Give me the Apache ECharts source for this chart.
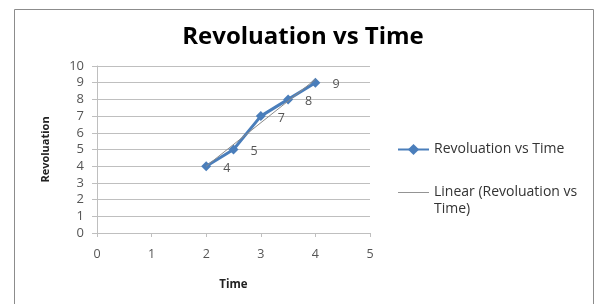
<!DOCTYPE html>
<html>
<head>
<meta charset="utf-8">
<script src="https://cdn.jsdelivr.net/npm/echarts@6/dist/echarts.min.js"></script>
<style>
    html, body { margin: 0; padding: 0; background: #fff; }
    #chart { width: 597px; height: 304px; }
</style>
</head>
<body>
<div id="chart"></div>
<script>
var timeValues = [2, 2.5, 3, 3.5, 4];
var revValues = [4, 5, 7, 8, 9];
// linear trendline end points
var trendTime = [2, 4];
var trendRev = [4.0, 9.2];

var seriesName = 'Revoluation vs Time';
var trendName = 'Linear (Revoluation vs Time)';

var fontFam = '"Open Sans", sans-serif';
var chart = echarts.init(document.getElementById('chart'));

var option = {
    animation: false,
    backgroundColor: '#fff',
    title: {
        text: 'Revoluation vs Time',
        left: 298,
        textAlign: 'center',
        top: 20,
        textStyle: {
            fontFamily: fontFam,
            fontSize: 24,
            fontWeight: 'bold',
            color: '#000'
        }
    },
    graphic: [{
        type: 'rect',
        shape: { x: 14.5, y: 9.5, width: 579, height: 310 },
        style: { fill: 'none', stroke: '#8c8c8c', lineWidth: 1 },
        silent: true
    }],
    grid: {
        left: 97,
        right: 227,
        top: 66,
        bottom: 71
    },
    legend: {
        orient: 'vertical',
        left: 397,
        top: 141,
        padding: 0,
        itemWidth: 31,
        itemHeight: 14,
        itemGap: 9,
        data: [
            { name: seriesName },
            { name: trendName, icon: 'path://M0,0L34,0L34,1L0,1Z' }
        ],
        formatter: function (name) {
            return name === trendName ? ' \nLinear (Revoluation vs\nTime)' : name;
        },
        textStyle: {
            fontFamily: fontFam,
            fontSize: 14,
            color: '#333',
            lineHeight: 17
        }
    },
    xAxis: {
        type: 'value',
        min: 0,
        max: 5,
        interval: 1,
        name: 'Time',
        nameLocation: 'middle',
        nameGap: 46,
        nameTextStyle: { fontFamily: fontFam, fontSize: 11.5, fontWeight: 'bold', color: '#222' },
        axisLine: { show: true, lineStyle: { color: '#bfbfbf' } },
        axisTick: { show: true, length: 4, lineStyle: { color: '#bfbfbf' } },
        axisLabel: { fontFamily: fontFam, fontSize: 12.5, color: '#555', margin: 15 },
        splitLine: { show: false }
    },
    yAxis: {
        type: 'value',
        min: 0,
        max: 10,
        interval: 1,
        name: 'Revoluation',
        nameLocation: 'middle',
        nameGap: 46,
        nameTextStyle: { fontFamily: fontFam, fontSize: 11, fontWeight: 'bold', color: '#222' },
        axisLine: { show: true, lineStyle: { color: '#bfbfbf' } },
        axisTick: { show: true, length: 5, lineStyle: { color: '#bfbfbf' } },
        axisLabel: { fontFamily: fontFam, fontSize: 13, color: '#555', margin: 13 },
        splitLine: { show: true, lineStyle: { color: '#bfbfbf', width: 1 } }
    },
    series: [
        {
            name: seriesName,
            type: 'line',
            data: timeValues.map(function (t, i) { return [t, revValues[i]]; }),
            symbol: 'diamond',
            symbolSize: 10,
            itemStyle: { color: '#4a7ebb' },
            lineStyle: { color: '#4a7ebb', width: 3 },
            label: {
                show: true,
                position: 'right',
                distance: 12,
                offset: [0, 2],
                fontFamily: fontFam,
                fontSize: 12.5,
                color: '#555',
                formatter: function (p) { return p.value[1]; }
            },
            z: 2
        },
        {
            name: trendName,
            type: 'line',
            data: trendTime.map(function (t, i) { return [t, trendRev[i]]; }),
            symbol: 'none',
            lineStyle: { color: '#8a8a8a', width: 1 },
            itemStyle: { color: '#8a8a8a' },
            z: 3
        }
    ]
};
chart.setOption(option);
</script>
</body>
</html>
